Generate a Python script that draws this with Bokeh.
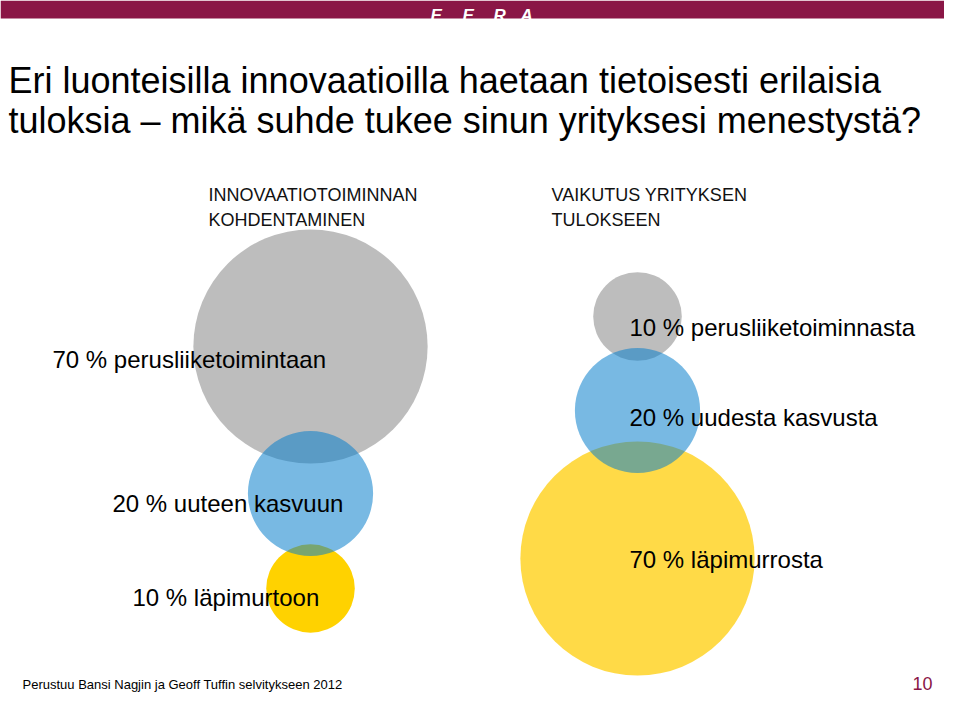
import math
from bokeh.plotting import figure
from bokeh.models import Range1d, ColumnDataSource, BoxAnnotation
from bokeh.core.properties import value
from bokeh.embed import file_html
from bokeh.resources import INLINE

# ---------------- data ----------------
title_lines = ["Eri luonteisilla innovaatioilla haetaan tietoisesti erilaisia",
               "tuloksia – mikä suhde tukee sinun yrityksesi menestystä?"]
left_header = ["INNOVAATIOTOIMINNAN", "KOHDENTAMINEN"]
right_header = ["VAIKUTUS YRITYKSEN", "TULOKSEEN"]
kinds = ["perusliiketoiminta", "uusi kasvu", "läpimurto"]
left_shares = [70, 20, 10]
left_labels = ["70 % perusliiketoimintaan", "20 % uuteen kasvuun", "10 % läpimurtoon"]
right_shares = [10, 20, 70]
right_labels = ["10 % perusliiketoiminnasta", "20 % uudesta kasvusta", "70 % läpimurrosta"]
source_note = "Perustuu Bansi Nagjin ja Geoff Tuffin selvitykseen 2012"
page_number = "10"
logo_letters = ["E", "E", "R", "A"]

# ---------------- layout / style ----------------
W, H = 944, 693
RADIUS_SCALE = 14.0
left_cx, right_cx = 310, 637
left_cy = [346, 493, 588]
right_cy = [316, 410, 558]
left_label_x = [52, 112, 132]
left_label_y = [359, 503, 597]
right_label_x = 629
right_label_y = [327, 417, 559]
left_colors = ["#bdbdbd", "#0a80cc", "#ffd200"]
right_colors = ["#bdbdbd", "#0a80cc", "#ffcc00"]
left_alpha = [1.0, 0.55, 1.0]
right_alpha = [1.0, 0.55, 0.72]
draw_order = [0, 2, 1]  # gray, yellow, blue on top
FONT = value("Liberation Sans")
BAR_COLOR = "#8a1646"

p = figure(width=W, height=H, x_range=Range1d(0, W), y_range=Range1d(H, 0),
           output_backend="svg", toolbar_location=None, min_border=0,
           background_fill_color="white", border_fill_color="white")
p.axis.visible = False
p.grid.visible = False
p.outline_line_color = None

# top bar
p.add_layout(BoxAnnotation(top=0, bottom=18, left=0, right=W, fill_color=BAR_COLOR,
                           fill_alpha=1.0, line_color=None, level="underlay"))

# circles
xs, ys, rs, cs, als = [], [], [], [], []
for k in draw_order:
    for cx, cy, shares, cols, alph in ((left_cx, left_cy, left_shares, left_colors, left_alpha),
                                       (right_cx, right_cy, right_shares, right_colors, right_alpha)):
        xs.append(cx)
        ys.append(cy[k])
        rs.append(RADIUS_SCALE * math.sqrt(shares[k]))
        cs.append(cols[k])
        als.append(alph[k])
circ = ColumnDataSource(dict(x=xs, y=ys, r=rs, c=cs, a=als))
p.circle(x="x", y="y", radius="r", fill_color="c", fill_alpha="a", line_color=None, source=circ)

# bubble labels
lab = ColumnDataSource(dict(
    x=left_label_x + [right_label_x] * len(right_labels),
    y=left_label_y + right_label_y,
    t=left_labels + right_labels))
p.text(x="x", y="y", text="t", source=lab, text_font=FONT, text_font_size="24px",
       text_baseline="alphabetic", text_align="left", text_color="black")

# title
p.text(x=[8, 8], y=[80, 120], text=title_lines, text_font=FONT, text_font_size="36px",
       text_baseline="alphabetic", text_color="black")

# headers
p.text(x=[208, 208], y=[194, 219], text=left_header, text_font=FONT, text_font_size="18px",
       text_baseline="alphabetic", text_color="#111111")
p.text(x=[551, 551], y=[194, 219], text=right_header, text_font=FONT, text_font_size="18px",
       text_baseline="alphabetic", text_color="#111111")

# logo letters
p.text(x=[430, 462, 493, 520], y=[15, 15, 15, 15], text=logo_letters, text_font=FONT,
       text_font_size="17px", text_font_style="bold italic", text_baseline="alphabetic",
       text_color="white")

# footer
p.text(x=[22], y=[684], text=[source_note], text_font=FONT,
       text_font_size="13px", text_baseline="alphabetic", text_color="black")
p.text(x=[912], y=[683], text=[page_number], text_font=FONT,
       text_font_size="18px", text_baseline="alphabetic", text_align="left", text_color=BAR_COLOR)

open("out.html", "w").write(file_html(p, INLINE))
